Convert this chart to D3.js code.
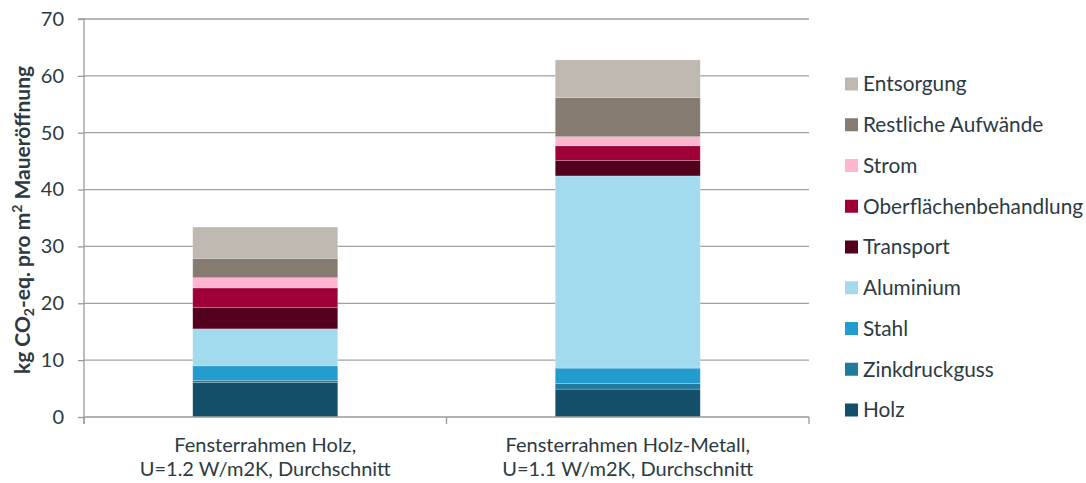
<!DOCTYPE html>
<html>
<head>
<meta charset="utf-8">
<script src="https://cdn.jsdelivr.net/npm/d3@7"></script>
<style>
  html, body { margin: 0; padding: 0; background: #fff; }
  svg { display: block; }
  text { font-family: Lato, "Open Sans", sans-serif; fill: #2c3a42; }
</style>
</head>
<body>
<svg id="chart" width="1086" height="483"></svg>
<script>
// Categories (two lines each)
const categories = [
  ["Fensterrahmen Holz,", "U=1.2 W/m2K, Durchschnitt"],
  ["Fensterrahmen Holz-Metall,", "U=1.1 W/m2K, Durchschnitt"]
];

// Stack components, bottom to top
const seriesNames = ["Holz", "Zinkdruckguss", "Stahl", "Aluminium", "Transport",
  "Oberflächenbehandlung", "Strom", "Restliche Aufwände", "Entsorgung"];
const seriesColors = ["#134f69", "#1f7a9c", "#229ccf", "#a2daee", "#52001e",
  "#9e0038", "#ffb5cf", "#857b70", "#bfb8b0"];

// kg CO2-eq. per m² wall opening, one value per category
const holz                  = [6.1, 4.9];
const zinkdruckguss         = [0.35, 1.0];
const stahl                 = [2.55, 2.7];
const aluminium             = [6.5, 33.8];
const transport             = [3.8, 2.7];
const oberflaechen          = [3.4, 2.6];
const strom                 = [1.8, 1.6];
const restlicheAufwaende    = [3.4, 6.9];
const entsorgung            = [5.5, 6.6];

const yTicks = [0, 10, 20, 30, 40, 50, 60, 70];

const seriesValues = [holz, zinkdruckguss, stahl, aluminium, transport,
  oberflaechen, strom, restlicheAufwaende, entsorgung];

const table = categories.map((c, i) => {
  const row = { idx: i };
  seriesNames.forEach((s, k) => { row[s] = seriesValues[k][i]; });
  return row;
});

const svg = d3.select("#chart");
const margin = { left: 84, right: 277, top: 19, bottom: 66 };
const W = 1086, H = 483;
const x0 = margin.left, x1 = W - margin.right;
const yTop = margin.top, yBot = H - margin.bottom;

const x = d3.scaleBand().domain(d3.range(categories.length)).range([x0, x1])
  .paddingInner(0.6).paddingOuter(0.3);
const y = d3.scaleLinear().domain([0, 70]).range([yBot, yTop]);

// Gridlines
svg.append("g").selectAll("line").data(yTicks.filter(t => t > 0)).join("line")
  .attr("x1", x0).attr("x2", x1)
  .attr("y1", d => y(d)).attr("y2", d => y(d))
  .attr("stroke", "#a0a0a0").attr("stroke-width", 1.3);

// Stacked bars
const stack = d3.stack().keys(seriesNames);
const layers = stack(table);
svg.append("g").selectAll("g").data(layers).join("g")
  .attr("fill", (d, i) => seriesColors[i])
  .selectAll("rect").data(d => d).join("rect")
  .attr("x", d => x(d.data.idx))
  .attr("width", x.bandwidth())
  .attr("y", d => y(d[1]))
  .attr("height", d => y(d[0]) - y(d[1]))
  .attr("stroke", "rgba(255,255,255,0.3)")
  .attr("stroke-width", 0.7);

// Y axis
const yAxis = d3.axisLeft(y).tickValues(yTicks).tickSize(6).tickPadding(14);
const gy = svg.append("g").attr("transform", `translate(${x0},0)`).call(yAxis);
gy.select(".domain").attr("stroke", "#9a9a9a").attr("stroke-width", 1.3)
  .attr("d", `M-6,${yTop}H0V${yBot + 7}`);
gy.selectAll(".tick line").attr("stroke", "#9a9a9a").attr("stroke-width", 1.3);
gy.selectAll(".tick text").attr("font-size", 20).attr("font-family", "Lato, sans-serif")
  .attr("fill", "#2c3a42");

// X axis line and category separators
const gx = svg.append("g");
gx.append("line").attr("x1", x0).attr("x2", x1).attr("y1", yBot).attr("y2", yBot)
  .attr("stroke", "#9a9a9a").attr("stroke-width", 1.6);
const sep = [x0, x0 + (x1 - x0) / 2, x1];
gx.selectAll("line.sep").data(sep).join("line").attr("class", "sep")
  .attr("x1", d => d).attr("x2", d => d)
  .attr("y1", yBot).attr("y2", yBot + 7)
  .attr("stroke", "#9a9a9a").attr("stroke-width", 1.3);

// Category labels
categories.forEach((lines, i) => {
  const cx = x(i) + x.bandwidth() / 2;
  lines.forEach((t, j) => {
    svg.append("text").attr("x", cx).attr("y", 452 + j * 24)
      .attr("text-anchor", "middle").attr("font-size", 20).text(t);
  });
});

// Y axis title with subscript and superscript
const title = svg.append("text")
  .attr("transform", `translate(30,220) rotate(-90)`)
  .attr("text-anchor", "middle").attr("font-size", 21).attr("font-weight", "bold");
title.append("tspan").text("kg CO");
title.append("tspan").attr("font-size", 14).attr("dy", 4).text("2");
title.append("tspan").attr("dy", -4).text("-eq. pro m");
title.append("tspan").attr("font-size", 14).attr("dy", -8).text("2");
title.append("tspan").attr("dy", 8).text(" Maueröffnung");

// Legend, top to bottom in reverse stacking order
const legendItems = seriesNames.map((n, i) => ({ name: n, color: seriesColors[i] })).reverse();
const lg = svg.append("g").selectAll("g").data(legendItems).join("g")
  .attr("transform", (d, i) => `translate(845,${84 + i * 40.75})`);
lg.append("rect").attr("x", 0).attr("y", -6.5).attr("width", 13).attr("height", 13)
  .attr("fill", d => d.color);
lg.append("text").attr("x", 18).attr("y", 0).attr("dy", "0.35em")
  .attr("font-size", 20.8).text(d => d.name);
</script>
</body>
</html>
